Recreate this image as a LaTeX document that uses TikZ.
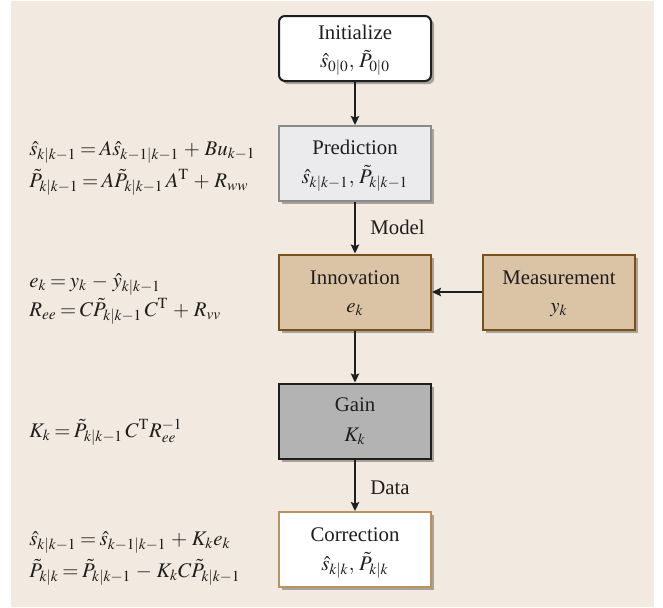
\documentclass[tikz,border=0pt]{standalone}
\usepackage{mathptmx}
\usepackage[no-math]{fontspec}
\setmainfont{Liberation Serif}
\newfontfamily\serifmain{Liberation Serif}
\usetikzlibrary{arrows.meta,shadows}
\definecolor{bgc}{HTML}{F2E9E0}
\definecolor{predfill}{HTML}{EBEBEE}
\definecolor{preddraw}{HTML}{8A8A8A}
\definecolor{tanfill}{HTML}{DBC3A5}
\definecolor{tandraw}{HTML}{7B4F1A}
\definecolor{gainfill}{HTML}{B3B3B3}
\definecolor{corrdraw}{HTML}{B8925F}
\definecolor{inkc}{HTML}{1E1E1E}
\tikzset{
  box/.style={minimum width=76pt, minimum height=37.5pt, line width=1pt, inner sep=0pt,
    drop shadow={shadow xshift=1.6pt, shadow yshift=-1.6pt, fill=black, opacity=0.3}},
  initbox/.style={box, fill=white, draw=inkc, rounded corners=3pt, minimum height=32.5pt},
  predbox/.style={box, fill=predfill, draw=preddraw},
  tanbox/.style={box, fill=tanfill, draw=tandraw},
  gainbox/.style={box, fill=gainfill, draw=inkc},
  corrbox/.style={box, fill=white, draw=corrdraw},
  lbl/.style={anchor=base, inner sep=0pt, text=inkc, font=\serifmain\fontsize{10.4}{12}\selectfont},
  eqn/.style={anchor=base west, inner sep=0pt, text=inkc, font=\serifmain\fontsize{10.4}{12}\selectfont},
  arr/.style={draw=inkc, line width=0.8pt, -{Stealth[length=4.5pt,width=4.2pt,inset=0.8pt]}}
}
\thickmuskip=3mu plus 1mu
\medmuskip=4mu plus 1mu
\begin{document}
\begin{tikzpicture}[x=0.5pt,y=-0.5pt]
\useasboundingbox (0,0) rectangle (663,607);
\fill[bgc] (11,1) rectangle (654,607);

% boxes
\node[initbox] (init) at (355,48.5) {};
\node[predbox] (pred) at (355,163.5) {};
\node[tanbox] (innov) at (355,292) {};
\node[tanbox] (meas) at (559,292) {};
\node[gainbox] (gain) at (355,421) {};
\node[corrbox] (corr) at (355,549.5) {};

% box texts
\node[lbl] (initT) at (355,39) {Initialize};
\node[lbl] (initV) at (355,67.5) {$\hat s_{0|0},\, \tilde P_{0|0}$};
\node[lbl] (predT) at (355,154) {Prediction};
\node[lbl] (predV) at (355,183) {$\hat s_{k|k-1},\, \tilde P_{k|k-1}$};
\node[lbl] (innovT) at (355,284) {Innovation};
\node[lbl] (innovV) at (355,312) {$e_k$};
\node[lbl] (measT) at (559,284) {Measurement};
\node[lbl] (measV) at (559,312) {$y_k$};
\node[lbl] (gainT) at (355,411) {Gain};
\node[lbl] (gainV) at (355,441) {$K_k$};
\node[lbl] (corrT) at (355,541) {Correction};
\node[lbl] (corrV) at (355,570) {$\hat s_{k|k},\, \tilde P_{k|k}$};

% connectors
\draw[arr] (init) -- (pred);
\draw[arr] (pred) -- (innov);
\draw[arr] (meas) -- (innov);
\draw[arr] (innov) -- (gain);
\draw[arr] (gain) -- (corr);

\node[eqn] (model) at (370,234) {Model};
\node[eqn] (data) at (370,494) {Data};

% equations
\node[eqn] (eq1) at (29,155) {$\hat s_{k|k-1} = A\hat s_{k-1|k-1} + Bu_{k-1}$};
\node[eqn] (eq2) at (29,187) {$\tilde P_{k|k-1} = A\tilde P_{k|k-1}\,A^{\mathrm T} + R_{ww}$};
\node[eqn] (eq3) at (29,287) {$e_k = y_k - \hat y_{k|k-1}$};
\node[eqn] (eq4) at (29,316) {$R_{ee} = C\tilde P_{k|k-1}\,C^{\mathrm T} + R_{vv}$};
\node[eqn] (eq5) at (29,437) {$K_k = \tilde P_{k|k-1}\,C^{\mathrm T}R_{ee}^{-1}$};
\node[eqn] (eq6) at (29,545) {$\hat s_{k|k-1} = \hat s_{k-1|k-1} + K_k e_k$};
\node[eqn] (eq7) at (29,577) {$\tilde P_{k|k} = \tilde P_{k|k-1} - K_k C\tilde P_{k|k-1}$};
\end{tikzpicture}
\end{document}
